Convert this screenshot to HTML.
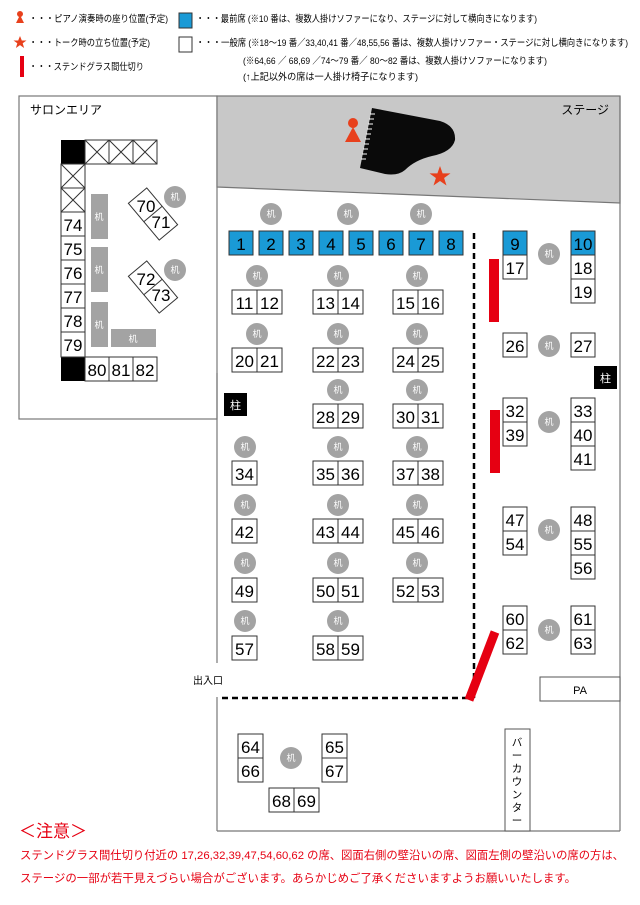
<!DOCTYPE html>
<html><head><meta charset="utf-8"><style>
html,body{margin:0;padding:0;background:#fff;}
svg{display:block;font-family:"Liberation Sans","Noto Sans CJK JP",sans-serif;}
.s rect{fill:#fff;stroke:#333;stroke-width:1;}
.s text{font-size:17px;text-anchor:middle;fill:#000;}
.b rect{fill:#1a9ad6;stroke:#333;stroke-width:1;}
.b text{font-size:17px;text-anchor:middle;fill:#000;}
.c circle{fill:#a3a3a3;}
.c text{font-size:9px;fill:#fff;text-anchor:middle;}
.lg{font-size:9.5px;fill:#000;}
.rd{fill:#e60012;}
</style></head><body>
<svg width="640" height="905" viewBox="0 0 640 905" xmlns="http://www.w3.org/2000/svg">
<!-- legend -->
<circle cx="20" cy="14" r="3" fill="#e8401c"/><polygon points="16,23 24,23 20,15" fill="#e8401c"/>
<text class="lg" x="29" y="22" textLength="139" lengthAdjust="spacingAndGlyphs">・・・ピアノ演奏時の座り位置(予定)</text>
<rect x="179" y="13" width="13" height="15" fill="#1a9ad6" stroke="#333"/>
<text class="lg" x="196" y="22" textLength="341" lengthAdjust="spacingAndGlyphs">・・・最前席 (※10 番は、複数人掛けソファーになり、ステージに対して横向きになります)</text>
<polygon points="20,36 21.8,40.5 26.5,40.5 22.7,43.3 24.1,48 20,45.1 15.9,48 17.3,43.3 13.5,40.5 18.2,40.5" fill="#e8401c"/>
<text class="lg" x="29" y="46" textLength="121" lengthAdjust="spacingAndGlyphs">・・・トーク時の立ち位置(予定)</text>
<rect x="179" y="37" width="13" height="15" fill="#fff" stroke="#333"/>
<text class="lg" x="196" y="46" textLength="432" lengthAdjust="spacingAndGlyphs">・・・一般席 (※18〜19 番／33,40,41 番／48,55,56 番は、複数人掛けソファー・ステージに対し横向きになります)</text>
<rect x="20" y="56" width="4" height="21" class="rd"/>
<text class="lg" x="29" y="70" textLength="115" lengthAdjust="spacingAndGlyphs">・・・ステンドグラス間仕切り</text>
<text class="lg" x="243" y="64" textLength="304" lengthAdjust="spacingAndGlyphs">(※64,66 ／ 68,69 ／74〜79 番／ 80〜82 番は、複数人掛けソファーになります)</text>
<text class="lg" x="243" y="80" fill="#e60012" textLength="175" lengthAdjust="spacingAndGlyphs">(↑上記以外の席は一人掛け椅子になります)</text>

<!-- walls -->
<rect x="19" y="96" width="198" height="323" fill="#fff" stroke="#777" stroke-width="1.2"/>
<polygon points="217,96 620,96 620,203 217,187" fill="#c8c8c8" stroke="#777" stroke-width="1.2"/>
<line x1="620" y1="96" x2="620" y2="831" stroke="#777" stroke-width="1.2"/>
<line x1="217" y1="373" x2="217" y2="663" stroke="#777" stroke-width="1.2"/>
<line x1="217" y1="697" x2="217" y2="831" stroke="#777" stroke-width="1.2"/>
<line x1="217" y1="831" x2="620" y2="831" stroke="#777" stroke-width="1.2"/>
<text x="30" y="114" font-size="12">サロンエリア</text>
<text x="609" y="114" font-size="12" text-anchor="end">ステージ</text>
<text x="193" y="684" font-size="10">出入口</text>

<!-- piano -->
<path d="M372,108 L440,121 Q456,126 455,140 Q452,152 432,156 Q415,160 405,170 Q398,176 385,174 L360,168 Z" fill="#0a0a0a"/>
<g stroke="#fff" stroke-width="1">
<line x1="370" y1="114" x2="375" y2="114"/><line x1="369" y1="119" x2="374" y2="119"/><line x1="368" y1="124" x2="373" y2="124"/><line x1="367" y1="129" x2="372" y2="129"/><line x1="366" y1="134" x2="371" y2="134"/><line x1="365" y1="139" x2="370" y2="139"/><line x1="364" y1="144" x2="369" y2="144"/><line x1="363" y1="149" x2="368" y2="149"/><line x1="362" y1="154" x2="367" y2="154"/><line x1="361" y1="159" x2="366" y2="159"/>
</g>
<circle cx="353" cy="123" r="5" fill="#e8401c"/><polygon points="345,142 361,142 353,127" fill="#e8401c"/>
<polygon points="440,166 442.6,173.4 450.5,173.4 444.1,178 446.5,185.5 440,181 433.5,185.5 435.9,178 429.5,173.4 437.4,173.4" fill="#e8401c"/>

<!-- salon -->
<rect x="61" y="140" width="24" height="24" fill="#000"/>
<rect x="61" y="357" width="24" height="24" fill="#000"/>
<g fill="#fff" stroke="#333">
<rect x="85" y="140" width="24" height="24"/><rect x="109" y="140" width="24" height="24"/><rect x="133" y="140" width="24" height="24"/>
<rect x="61" y="164" width="24" height="24"/><rect x="61" y="188" width="24" height="24"/>
</g>
<g stroke="#333">
<path d="M85,140 L109,164 M109,140 L85,164 M109,140 L133,164 M133,140 L109,164 M133,140 L157,164 M157,140 L133,164 M61,164 L85,188 M85,164 L61,188 M61,188 L85,212 M85,188 L61,212"/>
</g>
<g fill="#a3a3a3">
<rect x="91" y="194" width="17" height="45"/><rect x="91" y="247" width="17" height="45"/><rect x="91" y="302" width="17" height="45"/><rect x="111" y="329" width="45" height="18"/>
</g>
<g font-size="9" fill="#fff" text-anchor="middle">
<text x="99" y="220">机</text><text x="99" y="273">机</text><text x="99" y="328">机</text><text x="133" y="342">机</text>
</g>
<g fill="#fff" stroke="#333">
<rect x="129" y="202" width="48" height="24" transform="rotate(50 153 214)"/>
<line x1="153" y1="202" x2="153" y2="226" transform="rotate(50 153 214)"/>
<rect x="129" y="275" width="48" height="24" transform="rotate(50 153 287)"/>
<line x1="153" y1="275" x2="153" y2="299" transform="rotate(50 153 287)"/>
</g>
<g font-size="17" text-anchor="middle">
<text x="146" y="212">70</text><text x="161" y="228">71</text><text x="146" y="285">72</text><text x="161" y="301">73</text>
</g>

<!-- 柱 -->
<rect x="224" y="393" width="23" height="23" fill="#000"/><text x="235.5" y="409" font-size="11" fill="#fff" text-anchor="middle">柱</text>
<rect x="594" y="366" width="23" height="23" fill="#000"/><text x="605.5" y="382" font-size="11" fill="#fff" text-anchor="middle">柱</text>

<!-- dashed & partitions -->
<line x1="474" y1="233" x2="474" y2="698" stroke="#000" stroke-width="2.5" stroke-dasharray="6,4"/>
<line x1="222" y1="698" x2="470" y2="698" stroke="#000" stroke-width="2.5" stroke-dasharray="6,4"/>
<rect x="489" y="259" width="10" height="63" class="rd"/>
<rect x="490" y="410" width="10" height="63" class="rd"/>
<line x1="495" y1="632" x2="469" y2="700" stroke="#e60012" stroke-width="9"/>

<rect x="540" y="677" width="80" height="24" fill="#fff" stroke="#555"/><text x="580" y="694" font-size="11" text-anchor="middle">PA</text>
<rect x="505" y="729" width="25" height="102" fill="#fff" stroke="#555"/>
<g font-size="10.5" text-anchor="middle"><text x="517" y="746">バ</text><text x="517" y="759">ー</text><text x="517" y="772">カ</text><text x="517" y="785">ウ</text><text x="517" y="798">ン</text><text x="517" y="811">タ</text><text x="517" y="824">ー</text></g>

<!-- tables -->
<g class="c">
<circle cx="271" cy="214" r="11"/><text x="271" y="217">机</text>
<circle cx="348" cy="214" r="11"/><text x="348" y="217">机</text>
<circle cx="421" cy="214" r="11"/><text x="421" y="217">机</text>
<circle cx="257" cy="276" r="11"/><text x="257" y="279">机</text>
<circle cx="338" cy="276" r="11"/><text x="338" y="279">机</text>
<circle cx="417" cy="276" r="11"/><text x="417" y="279">机</text>
<circle cx="257" cy="334" r="11"/><text x="257" y="337">机</text>
<circle cx="338" cy="334" r="11"/><text x="338" y="337">机</text>
<circle cx="417" cy="334" r="11"/><text x="417" y="337">机</text>
<circle cx="338" cy="390" r="11"/><text x="338" y="393">机</text>
<circle cx="417" cy="390" r="11"/><text x="417" y="393">机</text>
<circle cx="245" cy="447" r="11"/><text x="245" y="450">机</text>
<circle cx="338" cy="447" r="11"/><text x="338" y="450">机</text>
<circle cx="417" cy="447" r="11"/><text x="417" y="450">机</text>
<circle cx="245" cy="505" r="11"/><text x="245" y="508">机</text>
<circle cx="338" cy="505" r="11"/><text x="338" y="508">机</text>
<circle cx="417" cy="505" r="11"/><text x="417" y="508">机</text>
<circle cx="245" cy="563" r="11"/><text x="245" y="566">机</text>
<circle cx="338" cy="563" r="11"/><text x="338" y="566">机</text>
<circle cx="417" cy="563" r="11"/><text x="417" y="566">机</text>
<circle cx="245" cy="621" r="11"/><text x="245" y="624">机</text>
<circle cx="338" cy="621" r="11"/><text x="338" y="624">机</text>
<circle cx="549" cy="254" r="11"/><text x="549" y="257">机</text>
<circle cx="549" cy="346" r="11"/><text x="549" y="349">机</text>
<circle cx="549" cy="422" r="11"/><text x="549" y="425">机</text>
<circle cx="549" cy="530" r="11"/><text x="549" y="533">机</text>
<circle cx="549" cy="630" r="11"/><text x="549" y="633">机</text>
<circle cx="291" cy="758" r="11"/><text x="291" y="761">机</text>
<circle cx="175" cy="197" r="11"/><text x="175" y="200">机</text>
<circle cx="175" cy="270" r="11"/><text x="175" y="273">机</text>
</g>

<!-- blue seats -->
<g class="b">
<rect x="229" y="231" width="24" height="24"/><text x="241" y="250">1</text>
<rect x="259" y="231" width="24" height="24"/><text x="271" y="250">2</text>
<rect x="289" y="231" width="24" height="24"/><text x="301" y="250">3</text>
<rect x="319" y="231" width="24" height="24"/><text x="331" y="250">4</text>
<rect x="349" y="231" width="24" height="24"/><text x="361" y="250">5</text>
<rect x="379" y="231" width="24" height="24"/><text x="391" y="250">6</text>
<rect x="409" y="231" width="24" height="24"/><text x="421" y="250">7</text>
<rect x="439" y="231" width="24" height="24"/><text x="451" y="250">8</text>
<rect x="503" y="231" width="24" height="24"/><text x="515" y="250">9</text>
<rect x="571" y="231" width="24" height="24"/><text x="583" y="250">10</text>
</g>

<!-- white seats -->
<g class="s">
<rect x="232" y="290" width="25" height="24"/><text x="244.5" y="309">11</text>
<rect x="257" y="290" width="25" height="24"/><text x="269.5" y="309">12</text>
<rect x="313" y="290" width="25" height="24"/><text x="325.5" y="309">13</text>
<rect x="338" y="290" width="25" height="24"/><text x="350.5" y="309">14</text>
<rect x="393" y="290" width="25" height="24"/><text x="405.5" y="309">15</text>
<rect x="418" y="290" width="25" height="24"/><text x="430.5" y="309">16</text>
<rect x="232" y="348" width="25" height="24"/><text x="244.5" y="367">20</text>
<rect x="257" y="348" width="25" height="24"/><text x="269.5" y="367">21</text>
<rect x="313" y="348" width="25" height="24"/><text x="325.5" y="367">22</text>
<rect x="338" y="348" width="25" height="24"/><text x="350.5" y="367">23</text>
<rect x="393" y="348" width="25" height="24"/><text x="405.5" y="367">24</text>
<rect x="418" y="348" width="25" height="24"/><text x="430.5" y="367">25</text>
<rect x="313" y="404" width="25" height="24"/><text x="325.5" y="423">28</text>
<rect x="338" y="404" width="25" height="24"/><text x="350.5" y="423">29</text>
<rect x="393" y="404" width="25" height="24"/><text x="405.5" y="423">30</text>
<rect x="418" y="404" width="25" height="24"/><text x="430.5" y="423">31</text>
<rect x="232" y="461" width="25" height="24"/><text x="244.5" y="480">34</text>
<rect x="313" y="461" width="25" height="24"/><text x="325.5" y="480">35</text>
<rect x="338" y="461" width="25" height="24"/><text x="350.5" y="480">36</text>
<rect x="393" y="461" width="25" height="24"/><text x="405.5" y="480">37</text>
<rect x="418" y="461" width="25" height="24"/><text x="430.5" y="480">38</text>
<rect x="232" y="519" width="25" height="24"/><text x="244.5" y="538">42</text>
<rect x="313" y="519" width="25" height="24"/><text x="325.5" y="538">43</text>
<rect x="338" y="519" width="25" height="24"/><text x="350.5" y="538">44</text>
<rect x="393" y="519" width="25" height="24"/><text x="405.5" y="538">45</text>
<rect x="418" y="519" width="25" height="24"/><text x="430.5" y="538">46</text>
<rect x="232" y="578" width="25" height="24"/><text x="244.5" y="597">49</text>
<rect x="313" y="578" width="25" height="24"/><text x="325.5" y="597">50</text>
<rect x="338" y="578" width="25" height="24"/><text x="350.5" y="597">51</text>
<rect x="393" y="578" width="25" height="24"/><text x="405.5" y="597">52</text>
<rect x="418" y="578" width="25" height="24"/><text x="430.5" y="597">53</text>
<rect x="232" y="636" width="25" height="24"/><text x="244.5" y="655">57</text>
<rect x="313" y="636" width="25" height="24"/><text x="325.5" y="655">58</text>
<rect x="338" y="636" width="25" height="24"/><text x="350.5" y="655">59</text>

<rect x="503" y="255" width="24" height="24"/><text x="515" y="274">17</text>
<rect x="571" y="255" width="24" height="24"/><text x="583" y="274">18</text>
<rect x="571" y="279" width="24" height="24"/><text x="583" y="298">19</text>
<rect x="503" y="333" width="24" height="24"/><text x="515" y="352">26</text>
<rect x="571" y="333" width="24" height="24"/><text x="583" y="352">27</text>
<rect x="503" y="398" width="24" height="24"/><text x="515" y="417">32</text>
<rect x="503" y="422" width="24" height="24"/><text x="515" y="441">39</text>
<rect x="571" y="398" width="24" height="24"/><text x="583" y="417">33</text>
<rect x="571" y="422" width="24" height="24"/><text x="583" y="441">40</text>
<rect x="571" y="446" width="24" height="24"/><text x="583" y="465">41</text>
<rect x="503" y="507" width="24" height="24"/><text x="515" y="526">47</text>
<rect x="503" y="531" width="24" height="24"/><text x="515" y="550">54</text>
<rect x="571" y="507" width="24" height="24"/><text x="583" y="526">48</text>
<rect x="571" y="531" width="24" height="24"/><text x="583" y="550">55</text>
<rect x="571" y="555" width="24" height="24"/><text x="583" y="574">56</text>
<rect x="503" y="606" width="24" height="24"/><text x="515" y="625">60</text>
<rect x="503" y="630" width="24" height="24"/><text x="515" y="649">62</text>
<rect x="571" y="606" width="24" height="24"/><text x="583" y="625">61</text>
<rect x="571" y="630" width="24" height="24"/><text x="583" y="649">63</text>

<rect x="238" y="734" width="25" height="24"/><text x="250.5" y="753">64</text>
<rect x="238" y="758" width="25" height="24"/><text x="250.5" y="777">66</text>
<rect x="322" y="734" width="25" height="24"/><text x="334.5" y="753">65</text>
<rect x="322" y="758" width="25" height="24"/><text x="334.5" y="777">67</text>
<rect x="269" y="788" width="25" height="24"/><text x="281.5" y="807">68</text>
<rect x="294" y="788" width="25" height="24"/><text x="306.5" y="807">69</text>

<rect x="61" y="212" width="24" height="24"/><text x="73" y="231">74</text>
<rect x="61" y="236" width="24" height="24"/><text x="73" y="255">75</text>
<rect x="61" y="260" width="24" height="24"/><text x="73" y="279">76</text>
<rect x="61" y="284" width="24" height="24"/><text x="73" y="303">77</text>
<rect x="61" y="308" width="24" height="24"/><text x="73" y="327">78</text>
<rect x="61" y="332" width="24" height="25"/><text x="73" y="351">79</text>
<rect x="85" y="357" width="24" height="24"/><text x="97" y="376">80</text>
<rect x="109" y="357" width="24" height="24"/><text x="121" y="376">81</text>
<rect x="133" y="357" width="24" height="24"/><text x="145" y="376">82</text>
</g>

<!-- note -->
<text x="19" y="837" font-size="17" fill="#e60012">＜注意＞</text>
<text x="20" y="859" font-size="11.3" fill="#e60012" textLength="604" lengthAdjust="spacingAndGlyphs">ステンドグラス間仕切り付近の 17,26,32,39,47,54,60,62 の席、図面右側の壁沿いの席、図面左側の壁沿いの席の方は、</text>
<text x="20" y="882" font-size="11.3" fill="#e60012" textLength="556" lengthAdjust="spacingAndGlyphs">ステージの一部が若干見えづらい場合がございます。あらかじめご了承くださいますようお願いいたします。</text>
</svg>
</body></html>
